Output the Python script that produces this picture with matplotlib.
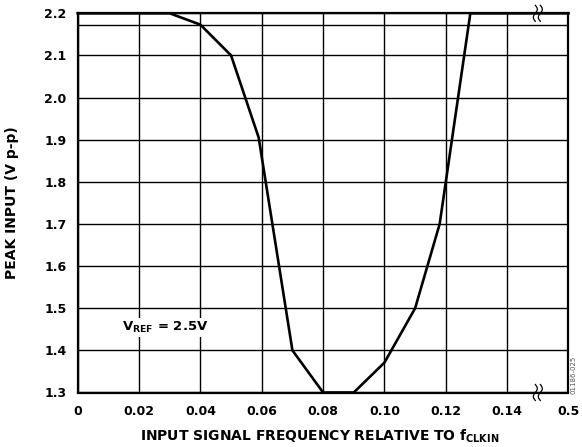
import numpy as np
import matplotlib
matplotlib.use("Agg")
import matplotlib.pyplot as plt
import matplotlib.transforms as mtransforms

plt.rcParams["font.family"] = ["DejaVu Sans"]
plt.rcParams["font.weight"] = "bold"
plt.rcParams["mathtext.fontset"] = "custom"
plt.rcParams["mathtext.rm"] = "DejaVu Sans:bold"
plt.rcParams["mathtext.it"] = "DejaVu Sans:bold"
plt.rcParams["mathtext.bf"] = "DejaVu Sans:bold"

# Peak input vs. normalised input frequency
freq = [0.0, 0.03, 0.04, 0.05, 0.059, 0.07, 0.08, 0.09, 0.10, 0.11, 0.118, 0.128, 0.5]
peak = [2.2, 2.2, 2.173, 2.1, 1.905, 1.4, 1.3, 1.3, 1.371, 1.5, 1.7, 2.2, 2.2]

x_ticks = [0, 0.02, 0.04, 0.06, 0.08, 0.10, 0.12, 0.14, 0.5]
x_tick_labels = ["0", "0.02", "0.04", "0.06", "0.08", "0.10", "0.12", "0.14", "0.5"]
y_ticks = [1.3, 1.4, 1.5, 1.6, 1.7, 1.8, 1.9, 2.0, 2.1, 2.2]
y_tick_labels = ["1.3", "1.4", "1.5", "1.6", "1.7", "1.8", "1.9", "2.0", "2.1", "2.2"]
extra_grid_y = 2.173

BREAK = 0.15


def fwd(x):
    # linear up to the break, then 0.15..0.5 squeezed into 0.15..0.16
    x = np.asarray(x, dtype=float)
    return np.where(x <= BREAK, x, BREAK + (x - BREAK) * (0.01 / 0.35))


def inv(x):
    x = np.asarray(x, dtype=float)
    return np.where(x <= BREAK, x, BREAK + (x - BREAK) * (0.35 / 0.01))


fig = plt.figure(figsize=(5.82, 4.47), dpi=100)
ax = fig.add_axes([0.1335, 1 - 392.5 / 447, 0.9768 - 0.1335, (392.5 - 13.3) / 447])
ax.set_xscale("function", functions=(fwd, inv))
ax.set_xlim(0, 0.5)
ax.set_ylim(1.3, 2.2)

ax.set_xticks(x_ticks)
ax.set_xticklabels(x_tick_labels)
ax.set_yticks(y_ticks)
ax.set_yticklabels(y_tick_labels)
ax.minorticks_off()
ax.tick_params(axis="both", length=0, labelsize=9)
ax.tick_params(axis="x", pad=9)
ax.tick_params(axis="y", pad=8)

ax.grid(True, color="black", linewidth=1.0)
ax.axhline(extra_grid_y, color="black", linewidth=1.0, zorder=1)
ax.set_axisbelow(True)

for sp in ax.spines.values():
    sp.set_linewidth(1.6)

ax.plot(freq, peak, color="black", linewidth=1.9, zorder=3, clip_on=False)

ax.text(0.0145, 1.455, r"V$_{\mathrm{REF}}$ = 2.5V", fontsize=9.5, fontweight="bold",
        ha="left", va="center", zorder=4,
        bbox=dict(facecolor="white", edgecolor="none", pad=1.5))

ax.set_xlabel(r"INPUT SIGNAL FREQUENCY RELATIVE TO f$_{\mathrm{CLKIN}}$",
              fontsize=10, fontweight="bold", ha="center", va="baseline")
ax.xaxis.set_label_coords(0.494, -0.128)
ax.set_ylabel("PEAK INPUT (V p-p)", fontsize=10, fontweight="bold",
              ha="center", va="center")
ax.yaxis.set_label_coords(-0.134, 0.5)

# axis-break marks on the top and bottom edges
t = np.linspace(-1, 1, 40)
wy = t * 0.08
wx = 0.02 * np.sin(t * np.pi)
for yb in (2.2, 1.3):
    trans = fig.dpi_scale_trans + mtransforms.ScaledTranslation(BREAK, yb, ax.transData)
    for off in (-0.025, 0.025):
        ax.plot(wx + off, wy, color="black", linewidth=0.9, transform=trans,
                clip_on=False, zorder=5)

fig.text(573 / 582, 1 - 375 / 447, "01186-025", rotation=90, fontsize=5,
         fontweight="normal", color="#555555", ha="center", va="center")

fig.savefig("out.png", dpi=100)
